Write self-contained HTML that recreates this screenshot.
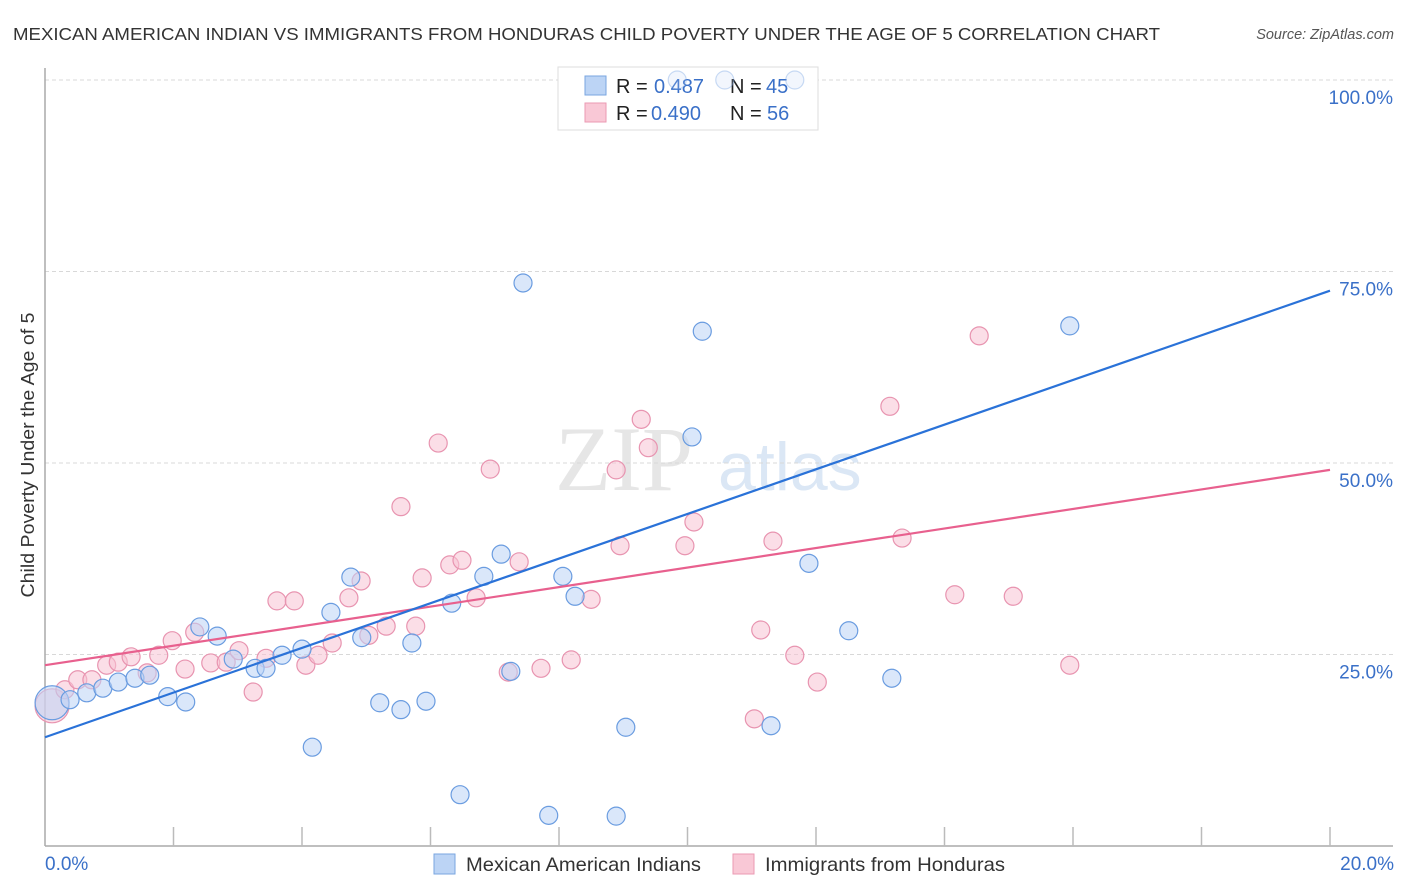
<!DOCTYPE html>
<html><head><meta charset="utf-8"><style>
body{margin:0;background:#fff;font-family:"Liberation Sans",sans-serif}
svg{display:block}
</style></head><body>
<svg id="chart" width="1406" height="892" xmlns="http://www.w3.org/2000/svg">
<text x="13" y="40" font-size="17.5" fill="#333" textLength="1147" lengthAdjust="spacingAndGlyphs">MEXICAN AMERICAN INDIAN VS IMMIGRANTS FROM HONDURAS CHILD POVERTY UNDER THE AGE OF 5 CORRELATION CHART</text>
<text x="1394" y="39" font-size="14.5" fill="#555" font-style="italic" text-anchor="end">Source: ZipAtlas.com</text>
<text x="555" y="490" font-size="92" fill="#e6e6e6" font-family="Liberation Serif,serif">ZIP</text>
<text x="718" y="490" font-size="68" fill="#dbe7f5">atlas</text>
<g id="grid"></g>
<g id="axes"></g>
<g>
<rect x="558" y="67" width="260" height="63" fill="#fff" stroke="#ddd"/>
<rect x="585" y="76" width="21" height="19" fill="#bcd4f5" stroke="#7aa6e0"/>
<rect x="585" y="103" width="21" height="19" fill="#f9c8d6" stroke="#eb9ab3"/>
<text x="616" y="93" font-size="20" fill="#222">R = <tspan x="654" fill="#3a70c8">0.487</tspan><tspan x="730">N =</tspan><tspan x="766" fill="#3a70c8">45</tspan></text>
<text x="616" y="120" font-size="20" fill="#222">R = <tspan x="651" fill="#3a70c8">0.490</tspan><tspan x="730">N =</tspan><tspan x="767" fill="#3a70c8">56</tspan></text>
</g>
<g id="pinkpts"></g>
<g id="bluepts"></g>
<g id="lines"></g>
<text transform="translate(34,455) rotate(-90)" font-size="18" fill="#333" text-anchor="middle" textLength="285" lengthAdjust="spacingAndGlyphs">Child Poverty Under the Age of 5</text>
<text x="45" y="870" font-size="19" fill="#3a70c8">0.0%</text>
<text x="1394" y="870" font-size="19" fill="#3a70c8" text-anchor="end">20.0%</text>
<g>
<rect x="434" y="854" width="21" height="20" fill="#bcd4f5" stroke="#7aa6e0"/>
<text x="466" y="871" font-size="19.5" fill="#333" textLength="235" lengthAdjust="spacingAndGlyphs">Mexican American Indians</text>
<rect x="733" y="854" width="21" height="20" fill="#f9c8d6" stroke="#eb9ab3"/>
<text x="765" y="871" font-size="19.5" fill="#333" textLength="240" lengthAdjust="spacingAndGlyphs">Immigrants from Honduras</text>
</g>
</svg>
<script>
const yTicks=[25,50,75,100];
const yTickLabels=["25.0%","50.0%","75.0%","100.0%"];
const blueX=[0.11,0.39,0.65,0.90,1.14,1.40,1.63,1.91,2.19,2.41,2.68,2.93,3.27,3.44,3.69,4.00,4.16,4.45,4.76,4.93,5.21,5.54,5.71,5.93,6.33,6.46,6.83,7.10,7.25,7.44,7.84,8.06,8.25,8.89,9.04,10.07,10.23,11.30,11.89,12.51,13.18,15.95,9.84,10.58,11.67];
const blueY=[18.7,19.1,20.0,20.6,21.4,21.9,22.3,19.5,18.8,28.6,27.4,24.4,23.2,23.2,24.9,25.7,12.9,30.5,35.1,27.2,18.7,17.8,26.5,18.9,31.7,6.7,35.2,38.1,22.8,73.5,4.0,35.2,32.6,3.9,15.5,53.4,67.2,15.7,36.9,28.1,21.9,67.9,100,100,100];
const pinkX=[0.11,0.31,0.51,0.73,0.96,1.14,1.34,1.59,1.77,1.98,2.18,2.33,2.58,2.82,3.02,3.24,3.44,3.61,3.88,4.06,4.25,4.47,4.73,4.92,5.04,5.31,5.54,5.77,5.87,6.12,6.30,6.49,6.71,6.93,7.21,7.38,7.72,8.19,8.50,8.89,8.95,9.28,9.39,9.96,10.10,11.04,11.14,11.33,11.67,12.02,13.15,13.34,14.16,14.54,15.07,15.95];
const pinkY=[18.3,20.4,21.7,21.7,23.6,24.0,24.7,22.6,24.9,26.8,23.1,27.9,23.9,24.0,25.5,20.1,24.5,32.0,32.0,23.6,24.9,26.5,32.4,34.6,27.5,28.7,44.3,28.7,35.0,52.6,36.7,37.3,32.4,49.2,22.7,37.1,23.2,24.3,32.2,49.1,39.2,55.7,52.0,39.2,42.3,16.6,28.2,39.8,24.9,21.4,57.4,40.2,32.8,66.6,32.6,23.6];
const blueTrend=[14.2,72.5];
const pinkTrend=[23.6,49.1];
const NS="http://www.w3.org/2000/svg";
const X0=45,X1=1330,Y0=846,Y100=80;
const xs=v=>X0+(X1-X0)*v/20;
const ys=v=>Y0-(Y0-Y100)*v/100;
function mk(tag,attrs,parent){const e=document.createElementNS(NS,tag);for(const k in attrs)e.setAttribute(k,attrs[k]);parent.appendChild(e);return e;}
const grid=document.getElementById('grid'),axes=document.getElementById('axes');
yTicks.forEach((t,i)=>{
  const l=mk('line',{x1:X0,x2:1393,y1:ys(t),y2:ys(t),stroke:'#d8d8d8','stroke-dasharray':'4,3'},grid);
  
  
  const tx=mk('text',{x:1393,y:ys(t)+24,'font-size':19,fill:'#3a70c8','text-anchor':'end'},grid);
  tx.textContent=yTickLabels[i];
  
  
});
let a=mk('line',{x1:X0,x2:X0,y1:68,y2:Y0,stroke:'#aaa','stroke-width':1.5},axes);


a=mk('line',{x1:X0,x2:1393,y1:Y0,y2:Y0,stroke:'#aaa','stroke-width':1.5},axes);


for(let v=2;v<=20;v+=2){const t=mk('line',{x1:xs(v),x2:xs(v),y1:Y0-19,y2:Y0,stroke:'#bbb','stroke-width':1.5},axes);
  
  }
function pts(X,Y,g,fill,stroke,name){
  X.forEach((x,i)=>{const r=i===0?17:9;
    const top=Y[i]>=100;
    const c=mk('circle',{cx:xs(x),cy:ys(Y[i]),r:r,fill:fill,'fill-opacity':top?0.2:0.55,stroke:stroke,'stroke-width':1.2,'stroke-opacity':top?0.35:1},g);
    
    });
}
pts(pinkX,pinkY,document.getElementById('pinkpts'),'#f7c3d3','#e894b0','honduras-point');
pts(blueX,blueY,document.getElementById('bluepts'),'#bcd4f5','#6a9ce0','mexican-american-indian-point');
const lg=document.getElementById('lines');
let ln=mk('line',{x1:xs(0),y1:ys(pinkTrend[0]),x2:xs(20),y2:ys(pinkTrend[1]),stroke:'#e8608e','stroke-width':2.2},lg);


ln=mk('line',{x1:xs(0),y1:ys(blueTrend[0]),x2:xs(20),y2:ys(blueTrend[1]),stroke:'#2a72d8','stroke-width':2.2},lg);


</script>
</body></html>
